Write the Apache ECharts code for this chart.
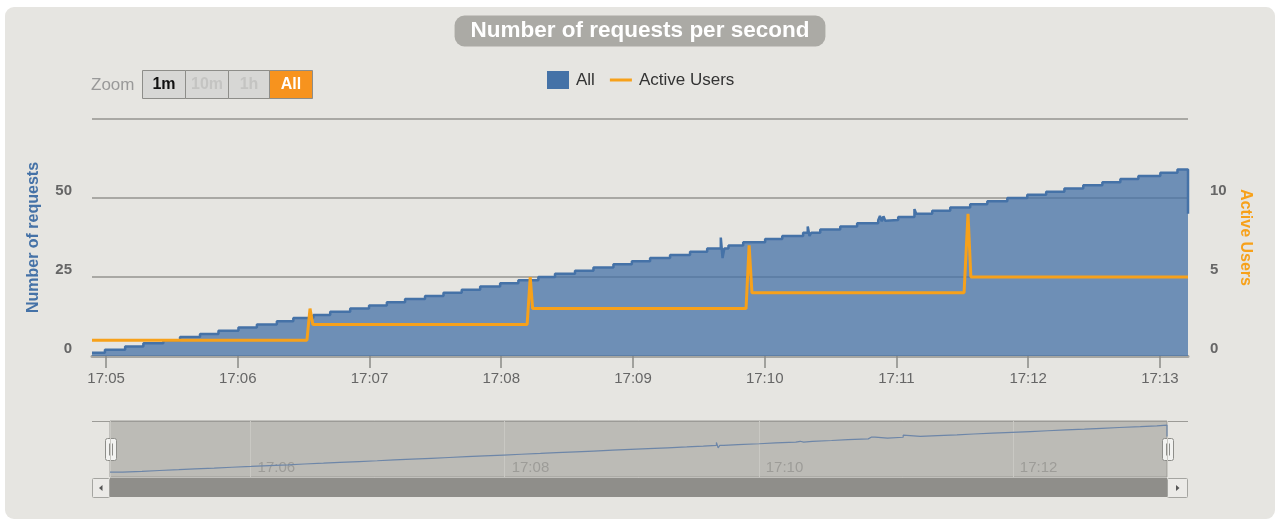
<!DOCTYPE html>
<html>
<head>
<meta charset="utf-8">
<script src="https://cdn.jsdelivr.net/npm/echarts@6/dist/echarts.min.js"></script>
<style>
  html, body { margin: 0; padding: 0; background: #ffffff; }
  #panel { position: absolute; left: 5px; top: 7px; width: 1270px; height: 512px; background: #e6e5e1; border-radius: 9px; }
  #chart { position: absolute; left: 0; top: 0; width: 1280px; height: 526px; }
</style>
</head>
<body>
<div id="panel"></div>
<div id="chart"></div>
<script>
// Sample times are seconds relative to 17:05:00.
const requestTimes = [-6.4, -0.5, 8.7, 17.0, 26.1, 33.7, 42.8, 51.2, 60.3, 68.7, 77.8, 85.3, 94.4, 102.1, 111.2,
  119.8, 127.9, 136.2, 145.3, 153.7, 162.0, 170.4, 179.5, 187.8, 196.9, 204.5, 213.6, 222.0, 231.1, 239.5,
  247.8, 256.9, 266.0, 273.8, 280.0, 280.8, 281.6, 283.5, 290.2, 300.2, 308.0, 317.5, 319.6, 320.4, 321.2,
  325.3, 334.4, 342.1, 351.7, 352.5, 353.3, 354.1, 354.9, 355.7, 360.8, 368.2, 369.0, 376.3, 384.5, 393.6,
  401.4, 410.5, 419.6, 428.2, 436.5, 445.1, 453.8, 462.0, 470.2, 480.2, 488.0, 492.8];
const requestValues = [1, 2, 3, 4, 5, 6, 7, 8, 9, 10, 11, 12, 13, 14, 15,
  16, 17, 18, 19, 20, 21, 22, 23, 24, 25, 26, 27, 28, 29, 30,
  31, 32, 33, 34, 37.5, 31, 34, 35, 36, 37, 38, 39, 41, 38, 39,
  40, 41, 42, 43, 44.3, 42.6, 44.2, 42.8, 43, 44, 46.5, 45, 46, 47, 48,
  49, 50, 51, 52, 53, 54, 55, 56, 57, 58, 59, 45];

const userTimes = [-6.4, 91.5, 92.9, 94.2, 191.8, 193.2, 194.3, 291.5, 292.9, 294.2, 390.8, 392.6, 393.9, 492.8];
const userValues = [1, 1, 3, 2, 2, 5, 3, 3, 7, 4, 4, 9, 5, 5];

const leftTicks = [0, 25, 50];
const rightTicks = [0, 5, 10];
const timeLabels = ['17:05', '17:06', '17:07', '17:08', '17:09', '17:10', '17:11', '17:12', '17:13'];
const navigatorLabels = ['17:06', '17:08', '17:10', '17:12'];

const base = new Date(2024, 0, 1, 17, 5, 0).getTime();
const toPairs = (times, values) => times.map((t, i) => [base + t * 1000, values[i]]);
const requestData = toPairs(requestTimes, requestValues);
const userData = toPairs(userTimes, userValues);
const tMin = requestData[0][0];
const tMax = requestData[requestData.length - 1][0];

const pad = n => (n < 10 ? '0' : '') + n;
const hhmm = v => { const d = new Date(v); return pad(d.getHours()) + ':' + pad(d.getMinutes()); };
const pickLabel = list => v => (list.includes(hhmm(v)) ? hhmm(v) : '');

const FONT = '"Liberation Sans", Arial, sans-serif';
const BLUE = '#4572a7';
const ORANGE = '#f7a11a';

// Range-selector buttons and navigator chrome
function button(x, w, label, fill, textColor) {
  return {
    type: 'group', left: x, top: 70,
    children: [
      { type: 'rect', shape: { x: 0, y: 0, width: w, height: 28 }, style: { fill: fill, stroke: '#8d8d89', lineWidth: 1 } },
      { type: 'text', x: w / 2, y: 14, style: { text: label, fill: textColor, font: 'bold 16px ' + FONT, align: 'center', verticalAlign: 'middle' } }
    ]
  };
}
function handle(x) {
  return {
    type: 'group', left: x, top: 438,
    children: [
      { type: 'rect', shape: { x: 0, y: 0, width: 11, height: 22, r: 2 }, style: { fill: '#f2f2f0', stroke: '#8e8e8a', lineWidth: 1 } },
      { type: 'line', shape: { x1: 4, y1: 5, x2: 4, y2: 17 }, style: { stroke: '#8e8e8a', lineWidth: 1 } },
      { type: 'line', shape: { x1: 7, y1: 5, x2: 7, y2: 17 }, style: { stroke: '#8e8e8a', lineWidth: 1 } }
    ]
  };
}

const chart = echarts.init(document.getElementById('chart'), null, { renderer: 'canvas' });
chart.setOption({
  animation: false,
  backgroundColor: 'transparent',
  textStyle: { fontFamily: FONT },
  title: {
    text: 'Number of requests per second',
    left: 'center', top: 16,
    padding: [4, 16, 4, 16],
    backgroundColor: '#abaaa5',
    borderRadius: 10,
    textStyle: { color: '#ffffff', fontSize: 22.5, fontWeight: 'bold', fontFamily: FONT, lineHeight: 22 }
  },
  legend: {
    left: 547, top: 71, padding: 0,
    itemWidth: 22, itemHeight: 18, itemGap: 15,
    textStyle: { color: '#333333', fontSize: 17, fontFamily: FONT, padding: [0, 0, 0, 2] },
    data: [
      { name: 'All', icon: 'rect' },
      { name: 'Active Users', icon: 'path://M0,0L22,0L22,3L0,3Z' }
    ]
  },
  grid: [
    { left: 92, right: 92, top: 119, height: 237, containLabel: false, outerBoundsMode: 'none' },
    { left: 110, top: 421, width: 1057, height: 56, show: true, backgroundColor: '#bcbbb6',
      borderColor: '#9c9b97', borderWidth: 1, containLabel: false, outerBoundsMode: 'none' }
  ],
  xAxis: [
    {
      type: 'time', gridIndex: 0, min: tMin, max: tMax,
      minInterval: 60000, maxInterval: 60000,
      axisLine: { show: true, lineStyle: { color: '#8a8a86', width: 2 } },
      axisTick: { show: true, length: 12, lineStyle: { color: '#8a8a86', width: 1.5 } },
      axisLabel: { formatter: pickLabel(timeLabels), color: '#666666', fontSize: 15, margin: 15, fontFamily: FONT },
      splitLine: { show: false }
    },
    {
      type: 'time', gridIndex: 1, min: tMin, max: tMax,
      minInterval: 150000, maxInterval: 150000,
      axisLine: { show: false }, axisTick: { show: false },
      axisLabel: { inside: true, formatter: pickLabel(navigatorLabels), color: '#9d9c98', fontSize: 15,
        margin: 2, align: 'left', padding: [0, 0, 0, 7], fontFamily: FONT },
      splitLine: { show: true, lineStyle: { color: '#c9c8c3', width: 1 } }
    },
    {
      type: 'time', gridIndex: 0, position: 'top', min: tMin, max: tMax,
      axisLine: { show: true, lineStyle: { color: '#a6a6a2', width: 3 } },
      axisTick: { show: false }, axisLabel: { show: false }, splitLine: { show: false }
    }
  ],
  yAxis: [
    {
      type: 'value', gridIndex: 0, min: 0, max: 75, interval: 25,
      name: 'Number of requests', nameLocation: 'middle', nameGap: 50, nameRotate: 90,
      nameTextStyle: { color: BLUE, fontSize: 16, fontWeight: 'bold', fontFamily: FONT },
      axisLine: { show: false }, axisTick: { show: false },
      axisLabel: { formatter: v => (leftTicks.includes(v) ? String(v) : ''), color: '#666666', fontSize: 15,
        fontWeight: 'bold', margin: 20, verticalAlign: 'bottom', fontFamily: FONT },
      splitLine: { show: true, lineStyle: { color: '#a9a8a4', width: 2 } }
    },
    {
      type: 'value', gridIndex: 0, position: 'right', min: 0, max: 15, interval: 5,
      name: 'Active Users', nameLocation: 'middle', nameGap: 46, nameRotate: -90,
      nameTextStyle: { color: ORANGE, fontSize: 16, fontWeight: 'bold', fontFamily: FONT },
      axisLine: { show: false }, axisTick: { show: false },
      axisLabel: { formatter: v => (rightTicks.includes(v) ? String(v) : ''), color: '#666666', fontSize: 15,
        fontWeight: 'bold', margin: 22, verticalAlign: 'bottom', fontFamily: FONT },
      splitLine: { show: false }
    },
    { type: 'value', gridIndex: 1, min: -5, max: 64, show: false }
  ],
  series: [
    {
      name: 'All', type: 'line', xAxisIndex: 0, yAxisIndex: 0,
      step: 'end', data: requestData, symbol: 'none', showSymbol: false,
      color: BLUE,
      lineStyle: { color: BLUE, width: 2.5 },
      areaStyle: { color: BLUE, opacity: 0.75 },
      z: 2
    },
    {
      name: 'Active Users', type: 'line', xAxisIndex: 0, yAxisIndex: 1,
      data: userData, symbol: 'none', showSymbol: false,
      color: ORANGE,
      lineStyle: { color: ORANGE, width: 3 },
      z: 3
    },
    {
      name: 'navigator', type: 'line', xAxisIndex: 1, yAxisIndex: 2,
      step: 'end', data: requestData, symbol: 'none', showSymbol: false, silent: true,
      lineStyle: { color: '#6d86a8', width: 1.2 }
    }
  ],
  graphic: [
    { type: 'text', left: 91, top: 77, style: { text: 'Zoom', fill: '#999999', font: '17px ' + FONT } },
    button(142, 43, '1m', '#d7d7d5', '#111111'),
    button(185, 43, '10m', '#d7d7d5', '#c4c4c2'),
    button(228, 41, '1h', '#d7d7d5', '#c4c4c2'),
    button(269, 43, 'All', '#f7931e', '#ffffff'),
    { type: 'line', shape: { x1: 92, y1: 421.5, x2: 1188, y2: 421.5 }, style: { stroke: '#9c9b97', lineWidth: 1 } },
    { type: 'rect', shape: { x: 110, y: 478, width: 1057, height: 19 }, style: { fill: '#8f8e8a' } },
    { type: 'rect', shape: { x: 92.5, y: 478.5, width: 17, height: 19, r: 1 }, style: { fill: '#ebeae7', stroke: '#a5a5a1', lineWidth: 1 } },
    { type: 'polygon', shape: { points: [[102.5, 485], [102.5, 491], [99, 488]] }, style: { fill: '#555555' } },
    { type: 'rect', shape: { x: 1167.5, y: 478.5, width: 20, height: 19, r: 1 }, style: { fill: '#ebeae7', stroke: '#a5a5a1', lineWidth: 1 } },
    { type: 'polygon', shape: { points: [[1176, 485], [1176, 491], [1179.5, 488]] }, style: { fill: '#555555' } },
    handle(105),
    handle(1162)
  ]
});
</script>
</body>
</html>
